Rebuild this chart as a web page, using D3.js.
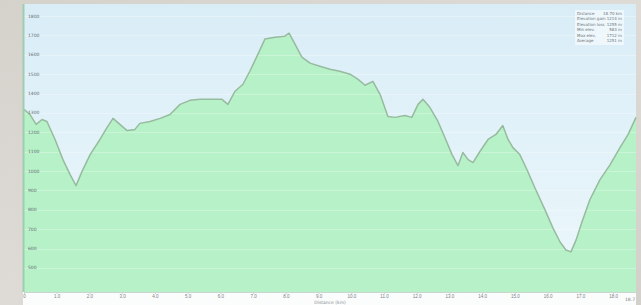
<!DOCTYPE html>
<html>
<head>
<meta charset="utf-8">
<script src="https://cdn.jsdelivr.net/npm/d3@7"></script>
<style>
  body { margin: 0; background: #d8d5d0; }
  svg { display: block; font-family: 'DejaVu Sans', sans-serif; }
</style>
</head>
<body>
<div id="chart"></div>
<script>
// profile data
const distanceKm = [0, 0.18, 0.37, 0.55, 0.70, 0.95, 1.19, 1.41, 1.59, 1.77, 2.02, 2.32, 2.54, 2.72, 2.93, 3.15, 3.39, 3.54, 3.85, 4.16, 4.46, 4.77, 5.07, 5.38, 5.84, 6.05, 6.23, 6.45, 6.69, 6.90, 7.15, 7.36, 7.67, 7.97, 8.10, 8.28, 8.49, 8.74, 9.04, 9.35, 9.65, 9.96, 10.20, 10.42, 10.66, 10.88, 11.12, 11.34, 11.64, 11.85, 12.04, 12.19, 12.40, 12.65, 12.86, 13.08, 13.26, 13.41, 13.57, 13.72, 13.93, 14.18, 14.42, 14.63, 14.79, 14.94, 15.15, 15.37, 15.61, 15.92, 16.16, 16.38, 16.56, 16.71, 16.87, 17.05, 17.29, 17.60, 17.91, 18.21, 18.46, 18.70];
const elevationM = [1318, 1292, 1241, 1266, 1256, 1163, 1059, 982, 925, 997, 1085, 1163, 1225, 1272, 1241, 1209, 1215, 1246, 1256, 1272, 1292, 1344, 1365, 1370, 1370, 1370, 1344, 1412, 1448, 1515, 1603, 1681, 1691, 1696, 1712, 1655, 1588, 1557, 1541, 1525, 1515, 1500, 1474, 1443, 1463, 1396, 1282, 1277, 1287, 1277, 1344, 1370, 1329, 1256, 1173, 1085, 1028, 1096, 1059, 1044, 1101, 1163, 1189, 1235, 1163, 1121, 1085, 1007, 914, 800, 707, 634, 593, 583, 645, 738, 852, 956, 1033, 1121, 1189, 1277];

// axis ticks
const elevationTicks = [500, 600, 700, 800, 900, 1000, 1100, 1200, 1300, 1400, 1500, 1600, 1700, 1800];
const distanceTicks = [0, 1, 2, 3, 4, 5, 6, 7, 8, 9, 10, 11, 12, 13, 14, 15, 16, 17, 18];

// summary box
const summaryNames = ['Distance', 'Elevation gain', 'Elevation loss', 'Min elev.', 'Max elev.', 'Average'];
const summaryValues = ['18.70 km', '1214 m', '1255 m', '583 m', '1712 m', '1251 m'];

const width = 641;
const height = 305;
const plot = { left: 24, right: 636, top: 4, bottom: 292 };

const svg = d3.select('#chart')
  .append('svg')
  .attr('width', width)
  .attr('height', height);

const defs = svg.append('defs');

const bgGrad = defs.append('linearGradient')
  .attr('id', 'bgGrad')
  .attr('x1', 0).attr('y1', 0).attr('x2', 0).attr('y2', 1);
bgGrad.append('stop').attr('offset', '0%').attr('stop-color', '#d9edf7');
bgGrad.append('stop').attr('offset', '100%').attr('stop-color', '#ecf7fb');

const outerGrad = defs.append('linearGradient')
  .attr('id', 'outerGrad')
  .attr('x1', 0).attr('y1', 0).attr('x2', 1).attr('y2', 1);
outerGrad.append('stop').attr('offset', '0%').attr('stop-color', '#d5d2cc');
outerGrad.append('stop').attr('offset', '50%').attr('stop-color', '#dedbd6');
outerGrad.append('stop').attr('offset', '100%').attr('stop-color', '#d3d0cb');

// slight softening, the reference is blurry
defs.append('filter')
  .attr('id', 'soft')
  .append('feGaussianBlur')
  .attr('stdDeviation', 0.4);

// outer backdrop
svg.append('rect')
  .attr('width', width)
  .attr('height', height)
  .attr('fill', 'url(#outerGrad)');

// white strip for the distance labels
svg.append('rect')
  .attr('x', plot.left - 1)
  .attr('y', plot.bottom)
  .attr('width', plot.right - plot.left + 1)
  .attr('height', height - plot.bottom)
  .attr('fill', '#fbfcfc');

// plot background
svg.append('rect')
  .attr('x', plot.left)
  .attr('y', plot.top)
  .attr('width', plot.right - plot.left)
  .attr('height', plot.bottom - plot.top)
  .attr('fill', 'url(#bgGrad)');

const x = d3.scaleLinear()
  .domain([0, 18.7])
  .range([plot.left, plot.right]);

const y = d3.scaleLinear()
  .domain([376, 1862])
  .range([plot.bottom, plot.top]);

const points = distanceKm.map((d, i) => ({ d, e: elevationM[i] }));

// filled profile
const area = d3.area()
  .x(p => x(p.d))
  .y0(plot.bottom)
  .y1(p => y(p.e));

svg.append('path')
  .datum(points)
  .attr('d', area)
  .attr('fill', '#b6f1c7');

// grid lines
svg.append('g')
  .selectAll('line')
  .data(elevationTicks)
  .enter()
  .append('line')
  .attr('x1', plot.left)
  .attr('x2', plot.right)
  .attr('y1', d => Math.round(y(d)) + 0.5)
  .attr('y2', d => Math.round(y(d)) + 0.5)
  .attr('stroke', '#ffffff')
  .attr('stroke-opacity', 0.3);

// profile outline
const line = d3.line()
  .x(p => x(p.d))
  .y(p => y(p.e));

svg.append('path')
  .datum(points)
  .attr('d', line)
  .attr('fill', 'none')
  .attr('stroke', '#97bb9f')
  .attr('stroke-width', 1.5)
  .attr('stroke-linejoin', 'round')
  .attr('filter', 'url(#soft)');

// left axis line
svg.append('line')
  .attr('x1', plot.left - 0.5)
  .attr('x2', plot.left - 0.5)
  .attr('y1', plot.top)
  .attr('y2', plot.bottom)
  .attr('stroke', '#9fcdb0')
  .attr('stroke-width', 2);

// elevation labels inside the plot
svg.append('g')
  .selectAll('text')
  .data(elevationTicks)
  .enter()
  .append('text')
  .attr('x', plot.left + 4)
  .attr('y', d => y(d) + 1.5)
  .text(d => d)
  .style('font-size', '4.5px')
  .style('fill', '#5f6a70');

// distance axis
const xAxis = d3.axisBottom(x)
  .tickValues(distanceTicks)
  .tickSize(2)
  .tickFormat(d => d === 0 ? '0' : d3.format('.1f')(d));

const xg = svg.append('g')
  .attr('transform', `translate(0, ${plot.bottom})`)
  .call(xAxis);
xg.select('.domain').attr('stroke', '#c9d6d0');
xg.selectAll('.tick line').attr('stroke', '#c9d6d0');
xg.selectAll('.tick text')
  .attr('y', 3)
  .style('font-size', '4.5px')
  .style('fill', '#7a8085');

// end of the route
svg.append('text')
  .attr('x', x(18.7) - 6)
  .attr('y', plot.bottom + 8.5)
  .attr('text-anchor', 'middle')
  .text('18.7')
  .style('font-size', '4.5px')
  .style('fill', '#7a8085');

// axis title
svg.append('text')
  .attr('x', (plot.left + plot.right) / 2)
  .attr('y', height - 1)
  .attr('text-anchor', 'middle')
  .text('Distance (km)')
  .style('font-size', '4.5px')
  .style('fill', '#8a9095');

// summary box
const box = svg.append('g')
  .attr('transform', 'translate(575, 10)');

box.append('rect')
  .attr('width', 49)
  .attr('height', 35)
  .attr('fill', '#f6fbfd')
  .attr('fill-opacity', 0.7);

summaryNames.forEach((name, index) => {
  box.append('text')
    .attr('x', 2)
    .attr('y', 5 + index * 5.4)
    .text(name)
    .style('font-size', '4px')
    .style('fill', '#6d7478');

  box.append('text')
    .attr('x', 47)
    .attr('y', 5 + index * 5.4)
    .attr('text-anchor', 'end')
    .text(summaryValues[index])
    .style('font-size', '4px')
    .style('fill', '#6d7478');
});
</script>
</body>
</html>
